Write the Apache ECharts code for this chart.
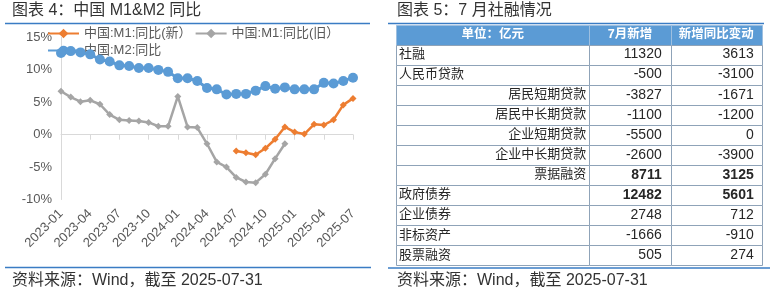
<!DOCTYPE html>
<html>
<head>
<meta charset="utf-8">
<script src="https://cdn.jsdelivr.net/npm/echarts@6/dist/echarts.min.js"></script>
<style>
html,body{margin:0;padding:0;background:#fff;}
#c{width:772px;height:296px;}
</style>
</head>
<body>
<div id="c"></div>
<script>
// ---------- Left chart data ----------
const months = [
  '2023-01','2023-02','2023-03','2023-04','2023-05','2023-06','2023-07','2023-08','2023-09','2023-10','2023-11','2023-12',
  '2024-01','2024-02','2024-03','2024-04','2024-05','2024-06','2024-07','2024-08','2024-09','2024-10','2024-11','2024-12',
  '2025-01','2025-02','2025-03','2025-04','2025-05','2025-06','2025-07'
];
const m1New = [
  null,null,null,null,null,null,null,null,null,null,null,null,
  null,null,null,null,null,null,-2.5,-2.8,-3.1,-2.1,-0.7,1.2,
  0.4,0.1,1.6,1.5,2.3,4.6,5.6
];
const m1Old = [
  6.7,5.8,5.1,5.3,4.7,3.1,2.3,2.2,2.1,1.9,1.3,1.3,
  5.9,1.2,1.1,-1.4,-4.2,-5.0,-6.6,-7.3,-7.4,-6.1,-3.7,-1.4,
  null,null,null,null,null,null,null
];
const m2 = [
  12.6,12.9,12.7,12.4,11.6,11.3,10.7,10.6,10.3,10.3,10.0,9.7,
  8.7,8.7,8.3,7.2,7.0,6.2,6.3,6.3,6.8,7.5,7.1,7.3,
  7.0,7.0,7.0,8.0,7.9,8.3,8.8
];
const seriesNames = ['中国:M1:同比(新）','中国:M1:同比(旧）','中国:M2:同比'];
const yTicks = { min: -10, max: 15, interval: 5 };

// ---------- Right table data ----------
const tableHeader = ['单位：亿元','7月新增','新增同比变动'];
const rowNames = ['社融','人民币贷款','居民短期贷款','居民中长期贷款','企业短期贷款','企业中长期贷款','票据融资','政府债券','企业债券','非标资产','股票融资'];
const julyNew = [11320,-500,-3827,-1100,-5500,-2600,8711,12482,2748,-1666,505];
const yoyChange = [3613,-3100,-1671,-1200,0,-3900,3125,5601,712,-910,274];
const subItems = ['居民短期贷款','居民中长期贷款','企业短期贷款','企业中长期贷款','票据融资'];
const boldValueRows = ['票据融资','政府债券'];

// ---------- Layout / style ----------
const FONT = '"Liberation Sans","Noto Sans CJK SC",sans-serif';
const colWeights = [193.3, 81.4, 91];
const colEdges = [0];
colWeights.forEach(w => colEdges.push(colEdges[colEdges.length - 1] + w));
const tableRows = ['__header__'].concat(rowNames);
const borderColor = '#8fa3b8';
const ruleColor = '#3a7cc4';

function renderTableRow(params, api) {
  const r = api.value(1);
  const yc = api.coord([0, r])[1];
  const h = api.size([0, 1])[1];
  const xs = colEdges.map(e => api.coord([e, r])[0]);
  const isHeader = r === 0;
  const children = [];
  for (let c = 0; c < 3; c++) {
    children.push({
      type: 'rect',
      shape: { x: Math.round(xs[c]) + 0.5, y: Math.round(yc - h / 2) + 0.5, width: Math.round(xs[c + 1]) - Math.round(xs[c]), height: Math.round(yc + h / 2) - Math.round(yc - h / 2) },
      style: { fill: isHeader ? '#5b9bd5' : '#ffffff', stroke: isHeader ? '#9dbfe0' : borderColor, lineWidth: 1 }
    });
  }
  if (isHeader) {
    for (let c = 0; c < 3; c++) {
      children.push({
        type: 'text',
        style: { text: tableHeader[c], x: (xs[c] + xs[c + 1]) / 2, y: yc, align: 'center', verticalAlign: 'middle',
          fill: '#ffffff', fontSize: 12.5, fontWeight: 'bold', fontFamily: FONT }
      });
    }
  } else {
    const i = r - 1;
    const name = rowNames[i];
    const isSub = subItems.indexOf(name) >= 0;
    const bold = boldValueRows.indexOf(name) >= 0;
    children.push({
      type: 'text',
      style: { text: name, x: isSub ? xs[1] - 3 : xs[0] + 3, y: yc, align: isSub ? 'right' : 'left', verticalAlign: 'middle',
        fill: '#262626', fontSize: 13, fontFamily: FONT }
    });
    children.push({
      type: 'text',
      style: { text: String(julyNew[i]), x: xs[2] - 9, y: yc, align: 'right', verticalAlign: 'middle',
        fill: '#262626', fontSize: 14, fontWeight: bold ? 'bold' : 'normal', fontFamily: FONT }
    });
    children.push({
      type: 'text',
      style: { text: String(yoyChange[i]), x: xs[3] - 8, y: yc, align: 'right', verticalAlign: 'middle',
        fill: '#262626', fontSize: 14, fontWeight: bold ? 'bold' : 'normal', fontFamily: FONT }
    });
  }
  return { type: 'group', children };
}

const chart = echarts.init(document.getElementById('c'), null, { renderer: 'canvas' });
const titleStyle = { fontSize: 16, fontWeight: 'normal', color: '#333333', fontFamily: FONT };
const option = {
  backgroundColor: '#ffffff',
  animation: false,
  textStyle: { fontFamily: FONT },
  title: [
    { text: '图表 4：中国 M1&M2 同比', left: 12, top: 3, padding: 0, textStyle: titleStyle },
    { text: '图表 5：7 月社融情况', left: 397, top: 3, padding: 0, textStyle: titleStyle },
    { text: '资料来源：Wind，截至 2025-07-31', left: 12, top: 273, padding: 0, textStyle: titleStyle },
    { text: '资料来源：Wind，截至 2025-07-31', left: 397, top: 273, padding: 0, textStyle: titleStyle }
  ],
  graphic: [
    { type: 'line', shape: { x1: 5, y1: 23.5, x2: 370, y2: 23.5 }, style: { stroke: ruleColor, lineWidth: 1.5 } },
    { type: 'line', shape: { x1: 5, y1: 267.5, x2: 371, y2: 267.5 }, style: { stroke: ruleColor, lineWidth: 1.5 } },
    { type: 'line', shape: { x1: 388, y1: 23.5, x2: 764, y2: 23.5 }, style: { stroke: ruleColor, lineWidth: 1.5 } },
    { type: 'line', shape: { x1: 388, y1: 268, x2: 770, y2: 268 }, style: { stroke: ruleColor, lineWidth: 1.5 } }
  ],
  legend: [
    { data: [seriesNames[0], seriesNames[1]], left: 47, top: 27, padding: 0, itemWidth: 31, itemHeight: 12, itemGap: 3,
      textStyle: { fontSize: 13, color: '#595959', fontFamily: FONT } },
    { data: [seriesNames[2]], left: 47, top: 44, padding: 0, itemWidth: 31, itemHeight: 12, itemGap: 3,
      textStyle: { fontSize: 13, color: '#595959', fontFamily: FONT } }
  ],
  grid: [
    { left: 61, top: 37.5, width: 292, height: 162, containLabel: false },
    { left: 396, top: 24.5, width: colEdges[3], height: 240.5, containLabel: false }
  ],
  xAxis: [
    { gridIndex: 0, type: 'category', data: months, boundaryGap: false, position: 'bottom',
      axisLine: { show: false, onZero: false }, axisTick: { show: false },
      axisLabel: { interval: 2, rotate: 45, margin: 12, color: '#595959', fontSize: 13, fontFamily: FONT },
      splitLine: { show: false } },
    { gridIndex: 0, type: 'category', data: months, boundaryGap: false, position: 'bottom',
      axisLine: { show: true, onZero: true, lineStyle: { color: '#d9d9d9', width: 1 } },
      axisTick: { show: true, interval: 2, length: 5, inside: false, lineStyle: { color: '#d9d9d9' } },
      axisLabel: { show: false }, splitLine: { show: false } },
    { gridIndex: 1, type: 'value', min: 0, max: colEdges[3], show: false }
  ],
  yAxis: [
    { gridIndex: 0, type: 'value', min: yTicks.min, max: yTicks.max, interval: yTicks.interval,
      axisLine: { show: true, lineStyle: { color: '#d9d9d9' } }, axisTick: { show: false },
      splitLine: { show: false },
      axisLabel: { formatter: '{value}%', color: '#595959', fontSize: 13, margin: 9, fontFamily: FONT } },
    { gridIndex: 1, type: 'category', data: tableRows, inverse: true, show: false }
  ],
  series: [
    { name: seriesNames[0], type: 'line', xAxisIndex: 0, yAxisIndex: 0, data: m1New, showAllSymbol: true,
      symbol: 'diamond', symbolSize: 7, color: '#ed7d31', lineStyle: { width: 2.5, color: '#ed7d31' },
      itemStyle: { color: '#ed7d31' }, connectNulls: false, z: 3 },
    { name: seriesNames[1], type: 'line', xAxisIndex: 0, yAxisIndex: 0, data: m1Old, showAllSymbol: true,
      symbol: 'diamond', symbolSize: 7, color: '#a5a5a5', lineStyle: { width: 2.5, color: '#a5a5a5' },
      itemStyle: { color: '#a5a5a5' }, connectNulls: false, z: 2 },
    { name: seriesNames[2], type: 'line', xAxisIndex: 0, yAxisIndex: 0, data: m2, showAllSymbol: true,
      symbol: 'circle', symbolSize: 10, color: '#5b9bd5', lineStyle: { width: 3, color: '#5b9bd5' },
      itemStyle: { color: '#5b9bd5' }, z: 4 },
    { type: 'custom', xAxisIndex: 2, yAxisIndex: 1, renderItem: renderTableRow, silent: true,
      data: tableRows.map((_, i) => [0, i]) }
  ]
};
chart.setOption(option);
</script>
</body>
</html>
